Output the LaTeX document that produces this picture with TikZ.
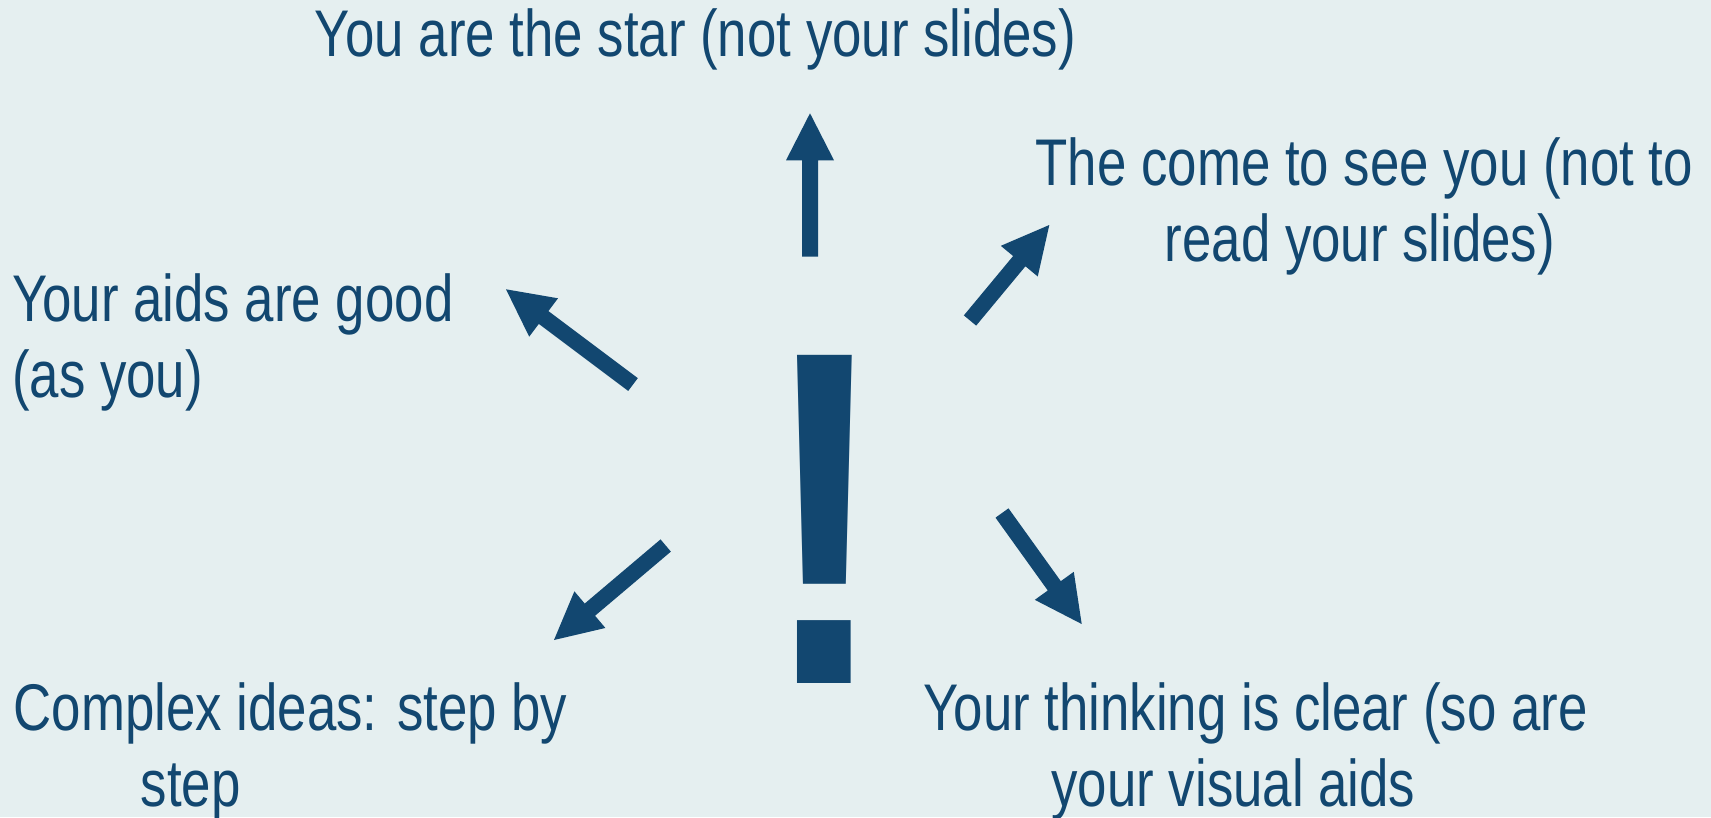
\documentclass[tikz,border=0pt]{standalone}
\usepackage{fontspec}
\setmainfont{Liberation Sans}[FakeStretch=0.80]
\usetikzlibrary{calc}
\definecolor{bg}{RGB}{229,239,240}
\definecolor{ink}{RGB}{18,71,112}
\tikzset{
  txt/.style={text=ink, inner sep=0pt, font=\fontsize{66}{76.7}\selectfont},
  arrowfill/.style={fill=ink},
}
\newcommand\blockarrow[2]{%
  \coordinate (#2-h) at ($(#2)!47pt!(#1)$);
  \fill[arrowfill] ($(#1)!8pt!90:(#2)$) -- ($(#2-h)!8pt!90:(#2)$) -- ($(#2-h)!24pt!90:(#2)$) -- (#2)
    -- ($(#2-h)!24pt!-90:(#2)$) -- ($(#2-h)!8pt!-90:(#2)$) -- ($(#1)!8pt!-90:(#2)$) -- cycle;}
\begin{document}
\begin{tikzpicture}[x=1pt,y=-1pt]
\fill[bg] (0,0) rectangle (1711,817);
\useasboundingbox (0,0) rectangle (1711,817);

\node[txt, anchor=base] (star) at (695.5,56.7) {You are the star (not your slides)};
\node[txt, anchor=base west, align=left] (aids) at (12,397.7) {Your aids are good\\(as you)};
\node[txt, anchor=base, align=center] (come) at (1364.4,261.7) {The come to see you (not to\\read your slides)\hspace*{9pt}};
\node[txt, anchor=base west, align=left] (complex) at (13.5,806.7) {Complex ideas: step by\\\hspace*{127pt}step};
\node[txt, anchor=base, align=center] (think) at (1255.5,806.7) {Your thinking is clear (so are\\your visual aids\hspace*{44pt}};

\node[text=ink, inner sep=0pt, font=\fontsize{477}{477}\selectfont\bfseries, anchor=base] (bang) at (825,683.3) {!};

\coordinate (tU) at (810,256.7);   \coordinate (pU) at (810,113.3);
\coordinate (tUL) at (633,384.5);  \coordinate (pUL) at (506,289.3);
\coordinate (tLL) at (665.7,545.5); \coordinate (pLL) at (554,640);
\coordinate (tUR) at (970,320.5);  \coordinate (pUR) at (1049.3,225);
\coordinate (tLR) at (1002,513);   \coordinate (pLR) at (1081.7,624);

\blockarrow{tU}{pU}
\blockarrow{tUL}{pUL}
\blockarrow{tLL}{pLL}
\blockarrow{tUR}{pUR}
\blockarrow{tLR}{pLR}
\end{tikzpicture}
\end{document}
